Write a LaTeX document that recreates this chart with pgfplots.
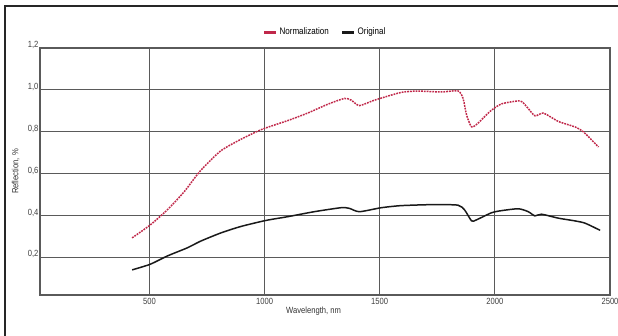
\documentclass[border=0pt]{standalone}
\usepackage{pgfplots}
\pgfplotsset{compat=1.18}
\usepackage{fontspec}
\setmainfont{Liberation Sans}[FakeStretch=0.85]
\definecolor{normred}{HTML}{C0284A}
\definecolor{gridgray}{HTML}{5A5A5A}
\begin{document}
\begin{tikzpicture}
\draw[line width=2.6pt, black!85] (-35bp,-41bp) -- (-35bp,289bp) -- (578bp,289bp);
\begin{axis}[
  scale only axis, width=570bp, height=247bp,
  xmin=25, xmax=2500, ymin=0.02, ymax=1.2,
  xtick={500,1000,1500,2000,2500},
  ytick={0.2,0.4,0.6,0.8,1.0,1.2},
  grid=major,
  major grid style={gridgray, line width=0.9pt},
  axis line style={gridgray, line width=1.1pt},
  major tick length=0pt,
  /pgf/number format/assume math mode=true,
  yticklabel style={/pgf/number format/use comma, /pgf/number format/fixed, /pgf/number format/fixed zerofill, /pgf/number format/precision=1},
  xticklabel style={/pgf/number format/1000 sep={}},
  ticklabel style={font=\fontsize{9}{10}\selectfont, text=black!75},
  yticklabel style={xshift=2pt, yshift=3pt},
  xticklabel style={yshift=0pt},
  xlabel={Wavelength, nm},
  ylabel={Reflection, \%},
  label style={font=\fontsize{9}{10}\selectfont, text=black!80},
  xlabel style={at={(rel axis cs:0.48,0)}, anchor=north, yshift=-9pt},
  ylabel style={at={(rel axis cs:0,0.5)}, anchor=south, yshift=17pt},
  legend style={at={(0.5,1.03)}, anchor=south, draw=none, fill=none,
    font=\fontsize{9.5}{10}\selectfont, legend columns=2,
    /tikz/every even column/.append style={column sep=10pt}},
  legend image code/.code={\draw[#1, solid, line width=3pt] (0cm,0cm) -- (12bp,0cm);},
]
\addplot[normred, line width=1.5pt, dash pattern=on 1.8pt off 1pt, smooth, tension=0.4] coordinates {
(425,0.293) (504,0.355) (577,0.426) (650,0.512) (722,0.614) (809,0.708)
(896,0.763) (969,0.802) (1005,0.818) (1100,0.853) (1187,0.889) (1274,0.931)
(1347,0.959) (1376,0.951) (1412,0.925) (1478,0.951) (1594,0.988) (1667,0.994)
(1768,0.990) (1840,0.995) (1862,0.959) (1877,0.881) (1899,0.823) (1928,0.842)
(1979,0.897) (2029,0.933) (2109,0.947) (2138,0.920) (2174,0.876) (2211,0.889)
(2276,0.849) (2348,0.823) (2385,0.799) (2450,0.727)
};
\addlegendentry{Normalization}
\addplot[black!90, line width=1.5pt, smooth, tension=0.4] coordinates {
(425,0.140) (504,0.167) (577,0.206) (664,0.245) (722,0.277) (809,0.316)
(896,0.347) (1005,0.376) (1100,0.394) (1216,0.418) (1332,0.437) (1368,0.434)
(1412,0.418) (1507,0.437) (1594,0.447) (1739,0.452) (1840,0.449) (1869,0.426)
(1899,0.374) (1920,0.379) (1986,0.413) (2029,0.423) (2102,0.432) (2145,0.418)
(2174,0.398) (2203,0.406) (2276,0.387) (2348,0.374) (2392,0.363) (2457,0.329)
};
\addlegendentry{Original}
\end{axis}
\pgfresetboundingbox
\path[use as bounding box] (-40bp,-41bp) rectangle (578bp,295bp);
\end{tikzpicture}
\end{document}
